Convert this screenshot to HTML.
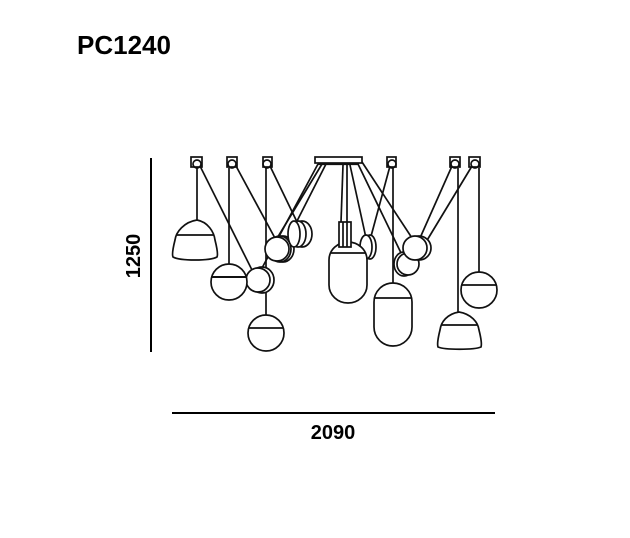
<!DOCTYPE html>
<html><head><style>
body{margin:0;background:#fff;}
svg{display:block;}
text{font-family:"Liberation Sans",Arial,sans-serif;font-weight:bold;fill:#000;}
</style></head><body>
<svg width="630" height="538" viewBox="0 0 630 538" xmlns="http://www.w3.org/2000/svg">
<text x="77" y="54" font-size="26">PC1240</text>
<line x1="151" y1="158" x2="151" y2="352" stroke="#000" stroke-width="2"/>
<text x="0" y="0" font-size="20" text-anchor="middle" transform="translate(140,256) rotate(-90)">1250</text>
<line x1="172" y1="413" x2="495" y2="413" stroke="#000" stroke-width="2"/>
<text x="333" y="439" font-size="20" text-anchor="middle">2090</text>
<g fill="none" stroke="#111" stroke-width="1.7">
<rect x="191" y="157" width="11" height="10"/><circle cx="197" cy="164" r="4"/>
<rect x="227" y="157" width="10" height="10"/><circle cx="232" cy="164" r="4"/>
<rect x="263" y="157" width="9" height="10"/><circle cx="267" cy="164" r="4"/>
<rect x="387" y="157" width="9" height="10"/><circle cx="392" cy="164" r="4"/>
<rect x="450" y="157" width="10" height="10"/><circle cx="455" cy="164" r="4"/>
<rect x="469" y="157" width="11" height="10"/><circle cx="475" cy="164" r="4"/>
<rect x="315" y="157" width="47" height="6"/>
<line x1="318" y1="164" x2="359" y2="164" stroke-width="2.2"/>
<line x1="197" y1="168" x2="197" y2="220"/>
<line x1="229" y1="168" x2="229" y2="264"/>
<line x1="266" y1="168" x2="266" y2="315"/>
<line x1="393" y1="168" x2="393" y2="283"/>
<line x1="479" y1="168" x2="479" y2="272"/>
<line x1="458" y1="168" x2="458" y2="312"/>
<line x1="200" y1="166" x2="252" y2="270"/>
<line x1="236" y1="166" x2="276" y2="240"/>
<line x1="270" y1="166" x2="298" y2="224"/>
<line x1="318" y1="164" x2="262" y2="268"/>
<line x1="322" y1="164" x2="276" y2="240"/>
<line x1="326" y1="164" x2="296" y2="223"/>
<line x1="343" y1="165" x2="341" y2="222"/>
<line x1="347" y1="165" x2="347" y2="222"/>
<line x1="350" y1="165" x2="366" y2="238"/>
<line x1="358" y1="164" x2="402" y2="255"/>
<line x1="362" y1="162" x2="412" y2="238"/>
<line x1="390" y1="166" x2="370" y2="240"/>
<line x1="452" y1="166" x2="420" y2="238"/>
<line x1="472" y1="166" x2="426" y2="242"/>
<ellipse cx="262" cy="280" rx="12" ry="13" fill="#fff"/><circle cx="258" cy="280" r="12" fill="#fff"/>
<ellipse cx="283" cy="249" rx="11" ry="13" fill="#fff"/><ellipse cx="280" cy="249" rx="11" ry="13" fill="#fff"/><circle cx="277" cy="249" r="12" fill="#fff"/>
<ellipse cx="302" cy="234" rx="10" ry="13" fill="#fff"/><ellipse cx="298" cy="234" rx="8" ry="13" fill="#fff"/><ellipse cx="294" cy="234" rx="6" ry="13" fill="#fff"/>
<ellipse cx="370" cy="247" rx="6" ry="12" fill="#fff"/><ellipse cx="366" cy="247" rx="6" ry="12" fill="#fff"/>
<ellipse cx="404" cy="264" rx="10" ry="12" fill="#fff"/><circle cx="408" cy="264" r="11" fill="#fff"/>
<circle cx="419" cy="248" r="12" fill="#fff"/><circle cx="415" cy="248" r="12" fill="#fff"/>
<path d="M197 220 C 184 222 176 232 175 240 C 173 248 172 255 173 257 C 180 261 210 261 217 257 C 218 255 217 248 215 240 C 214 232 208 222 197 220 Z" fill="#fff"/>
<line x1="176" y1="235" x2="214" y2="235"/>
<circle cx="229" cy="282" r="18" fill="#fff"/><line x1="211" y1="277" x2="247" y2="277" stroke-width="2"/>
<circle cx="266" cy="333" r="18" fill="#fff"/><line x1="249" y1="328" x2="283" y2="328"/>
<path d="M329 260 A19 18 0 0 1 367 260 L367 285 A19 18 0 0 1 329 285 Z" fill="#fff"/>
<line x1="330" y1="253" x2="366" y2="253"/>
<rect x="339" y="222" width="12" height="25" fill="#fff"/><line x1="343" y1="222" x2="343" y2="247"/><line x1="347" y1="222" x2="347" y2="247"/>
<path d="M374 302 A19 19 0 0 1 412 302 L412 327 A19 19 0 0 1 374 327 Z" fill="#fff"/>
<line x1="375" y1="298" x2="411" y2="298"/>
<circle cx="479" cy="290" r="18" fill="#fff"/><line x1="461" y1="285" x2="497" y2="285"/>
<path d="M459 312 C 447 314 441 322 440 330 C 438 338 437 344 438 347 C 445 350 474 350 481 347 C 482 344 481 338 479 330 C 478 322 471 314 459 312 Z" fill="#fff"/>
<line x1="441" y1="325" x2="478" y2="325"/>
</g>
</svg>
</body></html>
